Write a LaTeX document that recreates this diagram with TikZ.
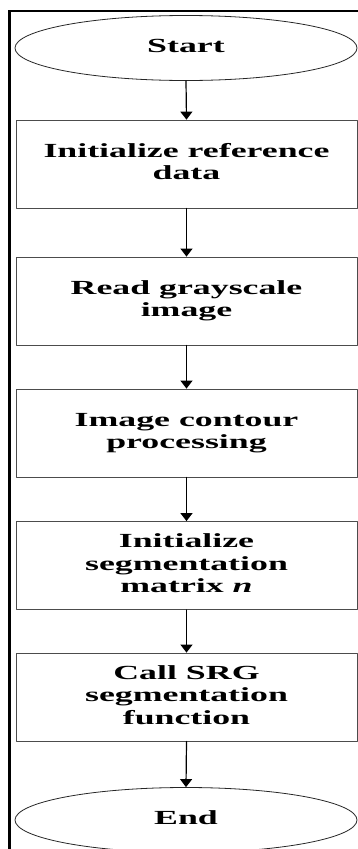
\documentclass[tikz,border=0pt]{standalone}
\usepackage{fontspec}
\setmainfont{Liberation Serif}
\usepackage{graphicx}
\usetikzlibrary{shapes.geometric,arrows.meta}
\newcommand{\widetext}[1]{\scalebox{1.79}[1]{\begin{tabular}{@{}c@{}}#1\end{tabular}}}

\begin{document}
\begin{tikzpicture}[x=1pt,y=-1pt,line cap=round,line join=round,>={Triangle[width=12pt,length=8pt]},
	font=\fontsize{20}{22.5}\selectfont\bfseries,
	term/.style={draw=black!85,ellipse,minimum width=342pt,minimum height=65pt,inner sep=0pt,line width=0.8pt},
	proc/.style={draw=black!70,rectangle,minimum width=341pt,minimum height=88pt,inner sep=0pt,line width=0.8pt}]
	\useasboundingbox (0,0) rectangle (358,849);
	% frame
	\draw[line width=2.5pt,line cap=butt,line join=miter] (9.5,849) -- (9.5,11) -- (358,11);
	% steps
	\node[term] (start) at (186,48) {\widetext{Start}};
	\node[proc] (init) at (186.5,164) {\widetext{Initialize reference\\data}};
	\node[proc] (read) at (186.5,301) {\widetext{Read grayscale\\image}};
	\node[proc] (contour) at (186.5,433) {\widetext{Image contour\\processing}};
	\node[proc] (matrix) at (186.5,565.5) {\widetext{Initialize\\segmentation\\matrix \textit{n}}};
	\node[proc] (srg) at (186.5,697) {\widetext{Call SRG\\segmentation\\function}};
	\node[term] (end) at (186,820) {\widetext{End}};
	% arrows
	\foreach \a/\b in {start/init,init/read,read/contour,contour/matrix,matrix/srg,srg/end}
	\draw[->,line width=1.2pt] (\a.south) -- (\b.north);
\end{tikzpicture}
\end{document}
